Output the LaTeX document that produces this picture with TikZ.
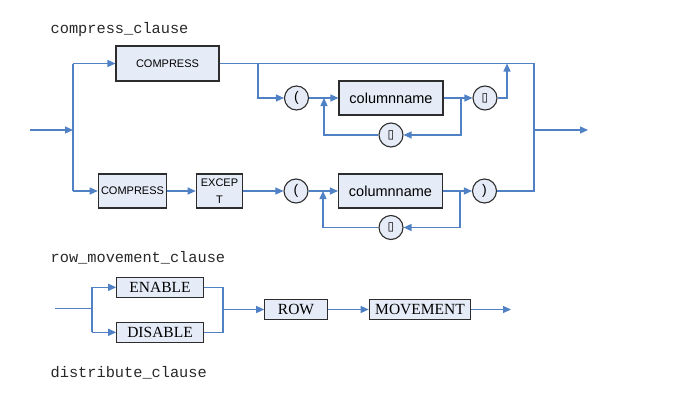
\documentclass[tikz,border=0pt]{standalone}
\usepackage{fontspec}
\setmainfont{Liberation Serif}
\setsansfont{Liberation Sans}
\setmonofont{Liberation Mono}
\newfontfamily\symfont{DejaVu Sans}
\usetikzlibrary{arrows.meta}
\definecolor{lineblue}{RGB}{79,129,196}
\definecolor{boxfill}{RGB}{230,236,247}
\definecolor{boxedge}{RGB}{45,45,45}
\definecolor{titlegray}{RGB}{40,40,40}
\tikzset{
  kwbox/.style={draw=boxedge, fill=boxfill, line width=1.1pt, inner sep=0pt, align=center},
  sansbox/.style={kwbox, font=\sffamily\fontsize{11}{17}\selectfont},
  namebox/.style={kwbox, font=\sffamily\fontsize{14.5}{17}\selectfont},
  serifbox/.style={kwbox, font=\rmfamily\fontsize{15.5}{17}\selectfont},
  circ/.style={draw=boxedge, fill=boxfill, line width=1.1pt, circle, minimum size=24pt, inner sep=0pt, font=\sffamily\fontsize{14}{16}\selectfont},
  symcirc/.style={circ, font=\symfont\fontsize{12}{14}\selectfont},
  title/.style={anchor=base west, inner sep=0pt, text=titlegray, font=\ttfamily\fontsize{15.3}{17}\selectfont},
  wire/.style={draw=lineblue, line width=1.3pt},
  flow/.style={wire, -{Triangle[length=8pt,width=7pt]}},
}
\begin{document}
\begin{tikzpicture}[x=1pt,y=-1pt]
\useasboundingbox (0,0) rectangle (677,415);

% titles
\node[title] (t1) at (50.5,33) {compress\_clause};
\node[title] (t2) at (50.5,262) {row\_movement\_clause};
\node[title] (t3) at (50.5,377) {distribute\_clause};

% ---------- compress_clause ----------
\node[sansbox, minimum width=103pt, minimum height=35pt] (cmp1) at (167.5,63.5) {COMPRESS};
\node[circ] (lp1) at (296.5,98) {(};
\node[namebox, minimum width=104pt, minimum height=34pt] (cn1) at (391,98) {columnname};
\node[symcirc] (cm1) at (485,98) {▯};
\node[symcirc] (cm2) at (391,135) {▯};

\node[sansbox, minimum width=68.5pt, minimum height=34pt] (cmp2) at (132.5,191) {COMPRESS};
\node[sansbox, minimum width=46.5pt, minimum height=34pt] (exc) at (219.5,191) {EXCEP\\T};
\node[circ] (lp2) at (296,191) {(};
\node[namebox, minimum width=104pt, minimum height=34pt] (cn2) at (390.5,191) {columnname};
\node[circ] (rp) at (484.5,191) {)};
\node[symcirc] (cm3) at (391,227.5) {▯};

\coordinate (in1) at (30,130);
\coordinate (j1) at (73,130);
\coordinate (j1t) at (73,63.5);
\coordinate (j1b) at (73,191);
\coordinate (r1) at (534,63.5);
\coordinate (r2) at (534,191);
\coordinate (rout) at (534,130);
\coordinate (out1) at (588,130);
\coordinate (b1) at (258,63.5);
\coordinate (k1) at (461,98);
\coordinate (m1) at (324,98);
\coordinate (u1) at (507,63.5);
\coordinate (k2) at (460,191);
\coordinate (m2) at (323,191);

\draw[flow] (in1) -- (j1);
\draw[wire] (j1t) -- (j1b);
\draw[flow] (j1t) -- (cmp1.west);
\draw[flow] (j1b) -- (cmp2.west);
\draw[wire] (cmp1.east) -- (r1) -- (r2) -- (rp.east);
\draw[flow] (rout) -- (out1);

\draw[flow] (b1) |- (lp1.west);
\draw[flow] (lp1.east) -- (cn1.west);
\draw[flow] (cn1.east) -- (cm1.west);
\draw[flow] (k1) |- (cm2.east);
\draw[flow] (cm2.west) -| (m1);
\draw[flow] (cm1.east) -| (u1);

\draw[flow] (cmp2.east) -- (exc.west);
\draw[flow] (exc.east) -- (lp2.west);
\draw[flow] (lp2.east) -- (cn2.west);
\draw[flow] (cn2.east) -- (rp.west);
\draw[flow] (k2) |- (cm3.east);
\draw[flow] (cm3.west) -| (m2);

% ---------- row_movement_clause ----------
\node[serifbox, minimum width=86.5pt, minimum height=20pt] (en) at (160,287.3) {ENABLE};
\node[serifbox, minimum width=86.5pt, minimum height=20pt] (dis) at (160,332.3) {DISABLE};
\node[serifbox, minimum width=62.5pt, minimum height=20.5pt] (row) at (296,309.5) {ROW};
\node[serifbox, minimum width=101.5pt, minimum height=20.5pt] (mov) at (420,309.5) {MOVEMENT};

\coordinate (rin) at (55,308.5);
\coordinate (rj) at (92,308.5);
\coordinate (rjt) at (92,287.3);
\coordinate (rjb) at (92,332.3);
\coordinate (mt) at (223,287.3);
\coordinate (mb) at (223,332.3);
\coordinate (mm) at (223,309.5);
\coordinate (rout2) at (511,309.5);

\draw[wire] (rin) -- (rj);
\draw[wire] (rjt) -- (rjb);
\draw[flow] (rjt) -- (en.west);
\draw[flow] (rjb) -- (dis.west);
\draw[wire] (en.east) -- (mt) -- (mb) -- (dis.east);
\draw[flow] (mm) -- (row.west);
\draw[flow] (row.east) -- (mov.west);
\draw[flow] (mov.east) -- (rout2);
\end{tikzpicture}
\end{document}
